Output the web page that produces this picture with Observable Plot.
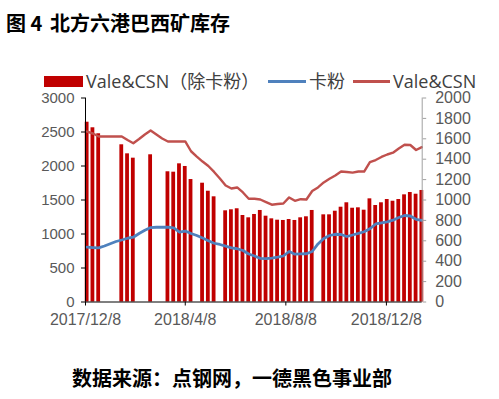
<!DOCTYPE html>
<html><head><meta charset="utf-8">
<script src="https://cdn.jsdelivr.net/npm/d3@7"></script>
<script src="https://cdn.jsdelivr.net/npm/@observablehq/plot@0.6"></script>
<style>
html,body{margin:0;padding:0;background:#fff;}
#wrap{position:relative;width:499px;height:399px;overflow:hidden;font-family:"Noto Sans CJK SC","Noto Sans",sans-serif;}
#chart{position:absolute;left:0;top:0;}
.t{position:absolute;white-space:pre;font-weight:bold;color:#000;font-family:"Noto Sans CJK SC",sans-serif;}
.leg{position:absolute;white-space:nowrap;font-size:18px;line-height:14px;top:73.5px;color:#404040;font-family:"Open Sans","Noto Sans CJK SC",sans-serif;}
.sw{position:absolute;}
</style></head><body>
<div id="wrap">
  <div id="chart"></div>
  <div class="t" style="left:6px;top:7.5px;font-size:20px;line-height:30px;">图 4</div>
  <div class="t" style="left:50px;top:7.5px;font-size:20px;line-height:30px;">北方六港巴西矿库存</div>
  <div class="sw" style="left:44px;top:75.5px;width:39px;height:11px;background:#c00000;"></div>
  <div class="leg" style="left:86px;">Vale&amp;CSN（除卡粉）</div>
  <div class="sw" style="left:268px;top:79.5px;width:38px;height:3px;background:#4f81bd;"></div>
  <div class="leg" style="left:309px;">卡粉</div>
  <div class="sw" style="left:353px;top:79.5px;width:37px;height:3px;background:#c0504d;"></div>
  <div class="leg" style="left:393px;">Vale&amp;CSN</div>
  <div class="t" style="left:72px;top:362.5px;font-size:20px;line-height:30px;">数据来源：点钢网，一德黑色事业部</div>
</div>
<script>
// weekly dates (Fridays)
const dates = ["2017-12-08","2017-12-15","2017-12-22","2017-12-29","2018-01-05","2018-01-12","2018-01-19","2018-01-26","2018-02-02","2018-02-09","2018-02-16","2018-02-23","2018-03-02","2018-03-09","2018-03-16","2018-03-23","2018-03-30","2018-04-06","2018-04-13","2018-04-20","2018-04-27","2018-05-04","2018-05-11","2018-05-18","2018-05-25","2018-06-01","2018-06-08","2018-06-15","2018-06-22","2018-06-29","2018-07-06","2018-07-13","2018-07-20","2018-07-27","2018-08-03","2018-08-10","2018-08-17","2018-08-24","2018-08-31","2018-09-07","2018-09-14","2018-09-21","2018-09-28","2018-10-05","2018-10-12","2018-10-19","2018-10-26","2018-11-02","2018-11-09","2018-11-16","2018-11-23","2018-11-30","2018-12-07","2018-12-14","2018-12-21","2018-12-28","2019-01-04","2019-01-11","2019-01-18"];
// Vale&CSN (除卡粉) – bars, left axis (null = no bar)
const valeExFines = [2644,2562,2474,null,null,null,2312,2179,2115,null,null,2165,null,null,1915,1909,2032,1993,1801,null,1747,1629,1547,null,1341,1356,1371,1272,1238,1287,1346,1262,1223,1203,1199,1213,1199,1238,1253,1346,null,1282,1282,1335,1394,1459,1379,1385,1350,1517,1419,1459,1507,1482,1507,1576,1610,1585,1640];
// 卡粉 – blue line, right axis
const carajasFines = [537,534,531,549,571,593,608,625,635,672,704,730,733,733,733,726,684,696,672,652,627,600,576,564,547,531,522,505,471,451,428,426,431,439,451,495,469,471,473,495,569,623,652,664,662,642,657,672,689,718,765,775,786,802,828,848,843,811,801];
// Vale&CSN – red line, right axis
const valeTotal = [1671,1652,1623,1623,1623,1623,1623,1588,1557,1598,1642,1681,1642,1603,1574,1574,1574,1574,1478,1426,1377,1333,1275,1211,1142,1113,1123,1074,1012,1012,1005,980,954,961,966,1025,992,1008,1005,1088,1123,1172,1208,1240,1279,1275,1268,1279,1279,1371,1392,1422,1446,1464,1505,1542,1539,1490,1518];
const leftTicks = [0,500,1000,1500,2000,2500,3000];
const rightTicks = [0,200,400,600,800,1000,1200,1400,1600,1800,2000];
const xTickLabels = ["2017-12-08","2018-04-08","2018-08-08","2018-12-08"];

const DAY = 864e5;
const ratio = 3000 / 2000;
const rows = dates.map((s, i) => ({date: new Date(s), bar: valeExFines[i], fen: carajasFines[i], total: valeTotal[i]}));
const barRows = rows.filter(r => r.bar != null);
const cx = d => new Date(+d + 2 * DAY);
const x0 = new Date("2017-12-08"), x1 = new Date("2019-01-20T10:00Z");
const axisFont = "'Liberation Sans',Arial,sans-serif";

const chart = Plot.plot({
  width: 499, height: 340,
  marginLeft: 85, marginRight: 77.3, marginTop: 97.5, marginBottom: 38.5,
  style: {fontFamily: axisFont, fontSize: "16px", color: "#595959", background: "transparent", overflow: "visible"},
  x: {type: "utc", domain: [x0, x1]},
  y: {domain: [0, 3000]},
  marks: [
    Plot.rectY(barRows, {x1: d => new Date(+d.date - 0.3 * DAY), x2: d => new Date(+d.date + 4.3 * DAY), y: "bar", fill: "#c00000"}),
    Plot.line(rows, {x: d => cx(d.date), y: d => d.total * ratio, stroke: "#c0504d", strokeWidth: 2.4}),
    Plot.line(rows, {x: d => cx(d.date), y: d => d.fen * ratio, stroke: "#4f81bd", strokeWidth: 2.8}),
    Plot.ruleX([x1], {y1: 0, y2: 3000, stroke: "#a0a0a0", strokeWidth: 1}),
    Plot.ruleX([x0], {y1: 0, y2: 3000, stroke: "#000", strokeWidth: 1}),
    Plot.ruleY([0], {stroke: "#000", strokeWidth: 1}),
    Plot.axisY({anchor: "left", ticks: leftTicks, tickFormat: d => String(d), tickSize: 4, tickPadding: 7, fontSize: 15, stroke: "#000", fill: "#595959", label: null}),
    Plot.axisY({anchor: "right", ticks: rightTicks.map(v => v * ratio), tickFormat: v => String(Math.round(v / ratio)), tickSize: 3.5, tickPadding: 9.5, fontSize: 16, stroke: "#a0a0a0", fill: "#595959", label: null}),
    Plot.axisX({ticks: xTickLabels.map(s => new Date(s)), tickFormat: d3.utcFormat("%Y/%-m/%-d"), tickSize: 4, tickPadding: 8, fontSize: 16, stroke: "#000", fill: "#595959", label: null})
  ]
});
document.getElementById("chart").appendChild(chart);
</script>
</body></html>
